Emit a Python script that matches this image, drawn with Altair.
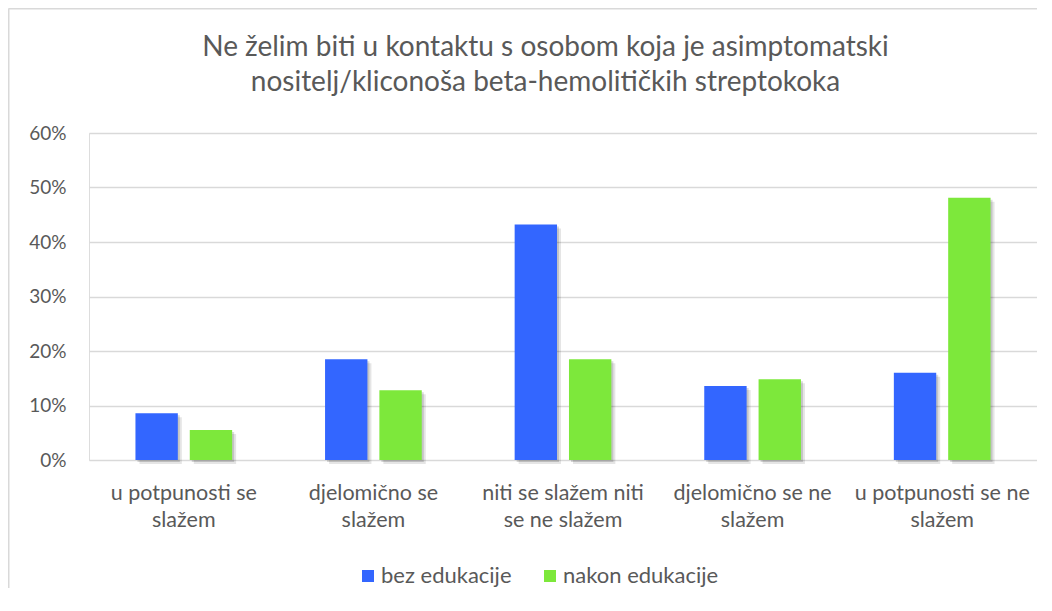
import altair as alt
import pandas as pd

categories = [
    "u potpunosti se|slažem",
    "djelomično se|slažem",
    "niti se slažem niti|se ne slažem",
    "djelomično se ne|slažem",
    "u potpunosti se ne|slažem",
]
series = ["bez edukacije", "nakon edukacije"]
bez_edukacije = [0.086, 0.185, 0.432, 0.136, 0.160]
nakon_edukacije = [0.055, 0.128, 0.185, 0.148, 0.481]
colors = ["#3366FF", "#7DE83B"]
title_line1 = "Ne želim biti u kontaktu s osobom koja je asimptomatski"
title_line2 = "nositelj/kliconoša beta-hemolitičkih streptokoka"

rows = []
for c, b, n in zip(categories, bez_edukacije, nakon_edukacije):
    rows.append({"cat": c, "series": series[0], "value": b})
    rows.append({"cat": c, "series": series[1], "value": n})
df = pd.DataFrame(rows)

FONT = "Lato"
TXT = "#595959"

x_enc = alt.X(
    "cat:N",
    sort=categories,
    scale=alt.Scale(paddingInner=0.49, paddingOuter=0.245),
    axis=alt.Axis(
        title=None,
        labelAngle=0,
        labelExpr="split(datum.label, '|')",
        labelFont=FONT,
        labelFontSize=21.5,
        labelColor=TXT,
        labelLineHeight=27,
        labelPadding=22,
        domain=False,
        ticks=False,
        labelLimit=300,
    ),
)
y_enc = alt.Y(
    "value:Q",
    scale=alt.Scale(domain=[0, 0.6]),
    axis=alt.Axis(
        title=None,
        format=".0%",
        values=[0, 0.1, 0.2, 0.3, 0.4, 0.5, 0.6],
        labelFont=FONT,
        labelFontSize=19,
        labelColor=TXT,
        labelPadding=23,
        domain=False,
        ticks=False,
        gridColor="#D9D9D9",
        gridWidth=1.5,
    ),
)

base = alt.Chart(df)

shadow1 = base.mark_bar(color="#000000", opacity=0.10, yOffset=4).encode(
    x=x_enc,
    y=y_enc,
    xOffset=alt.XOffset("series:N", sort=series,
                        scale=alt.Scale(paddingInner=0.22, range=[4, 100.7])),
)
shadow2 = base.mark_bar(color="#000000", opacity=0.14, yOffset=2).encode(
    x=x_enc,
    y=y_enc,
    xOffset=alt.XOffset("series:N", sort=series,
                        scale=alt.Scale(paddingInner=0.22, range=[2, 98.7])),
)
bars = base.mark_bar().encode(
    x=x_enc,
    y=y_enc,
    xOffset=alt.XOffset("series:N", sort=series,
                        scale=alt.Scale(paddingInner=0.22, range=[0, 96.7])),
    color=alt.Color(
        "series:N",
        sort=series,
        scale=alt.Scale(domain=series, range=colors),
        legend=alt.Legend(
            title=None,
            orient="none",
            direction="horizontal",
            legendX=268,
            legendY=432,
            symbolType="square",
            symbolSize=144,
            symbolStrokeWidth=0,
            labelFont=FONT,
            labelFontSize=22,
            labelColor=TXT,
            labelOffset=2,
            columnPadding=27,
        ),
    ),
)

one = pd.DataFrame({"a": [0]})
left_border = alt.Chart(one).mark_rule(color="#D9D9D9", strokeWidth=2).encode(
    x=alt.value(-80.5), y=alt.value(-124.5), y2=alt.value(470)
)
top_border = alt.Chart(one).mark_rule(color="#D9D9D9", strokeWidth=2).encode(
    x=alt.value(-80.5), x2=alt.value(960), y=alt.value(-124.5)
)
title1 = alt.Chart(one).mark_text(
    text=title_line1, font=FONT, fontSize=28, color=TXT, align="center", baseline="alphabetic"
).encode(x=alt.value(456.5), y=alt.value(-77))
title2 = alt.Chart(one).mark_text(
    text=title_line2, font=FONT, fontSize=28, color=TXT, align="center", baseline="alphabetic"
).encode(x=alt.value(456.5), y=alt.value(-42))

chart = (
    alt.layer(shadow1, shadow2, bars, left_border, top_border, title1, title2)
    .resolve_scale(xOffset="independent")
    .properties(
        width=948,
        height=327,
        autosize=alt.AutoSizeParams(type="none"),
        padding={"left": 81, "top": 125, "right": 0, "bottom": 128},
    )
    .configure_view(stroke=None)
    .configure(background="white")
)

chart.save("out.html", embed_options={"renderer": "svg", "actions": False})
